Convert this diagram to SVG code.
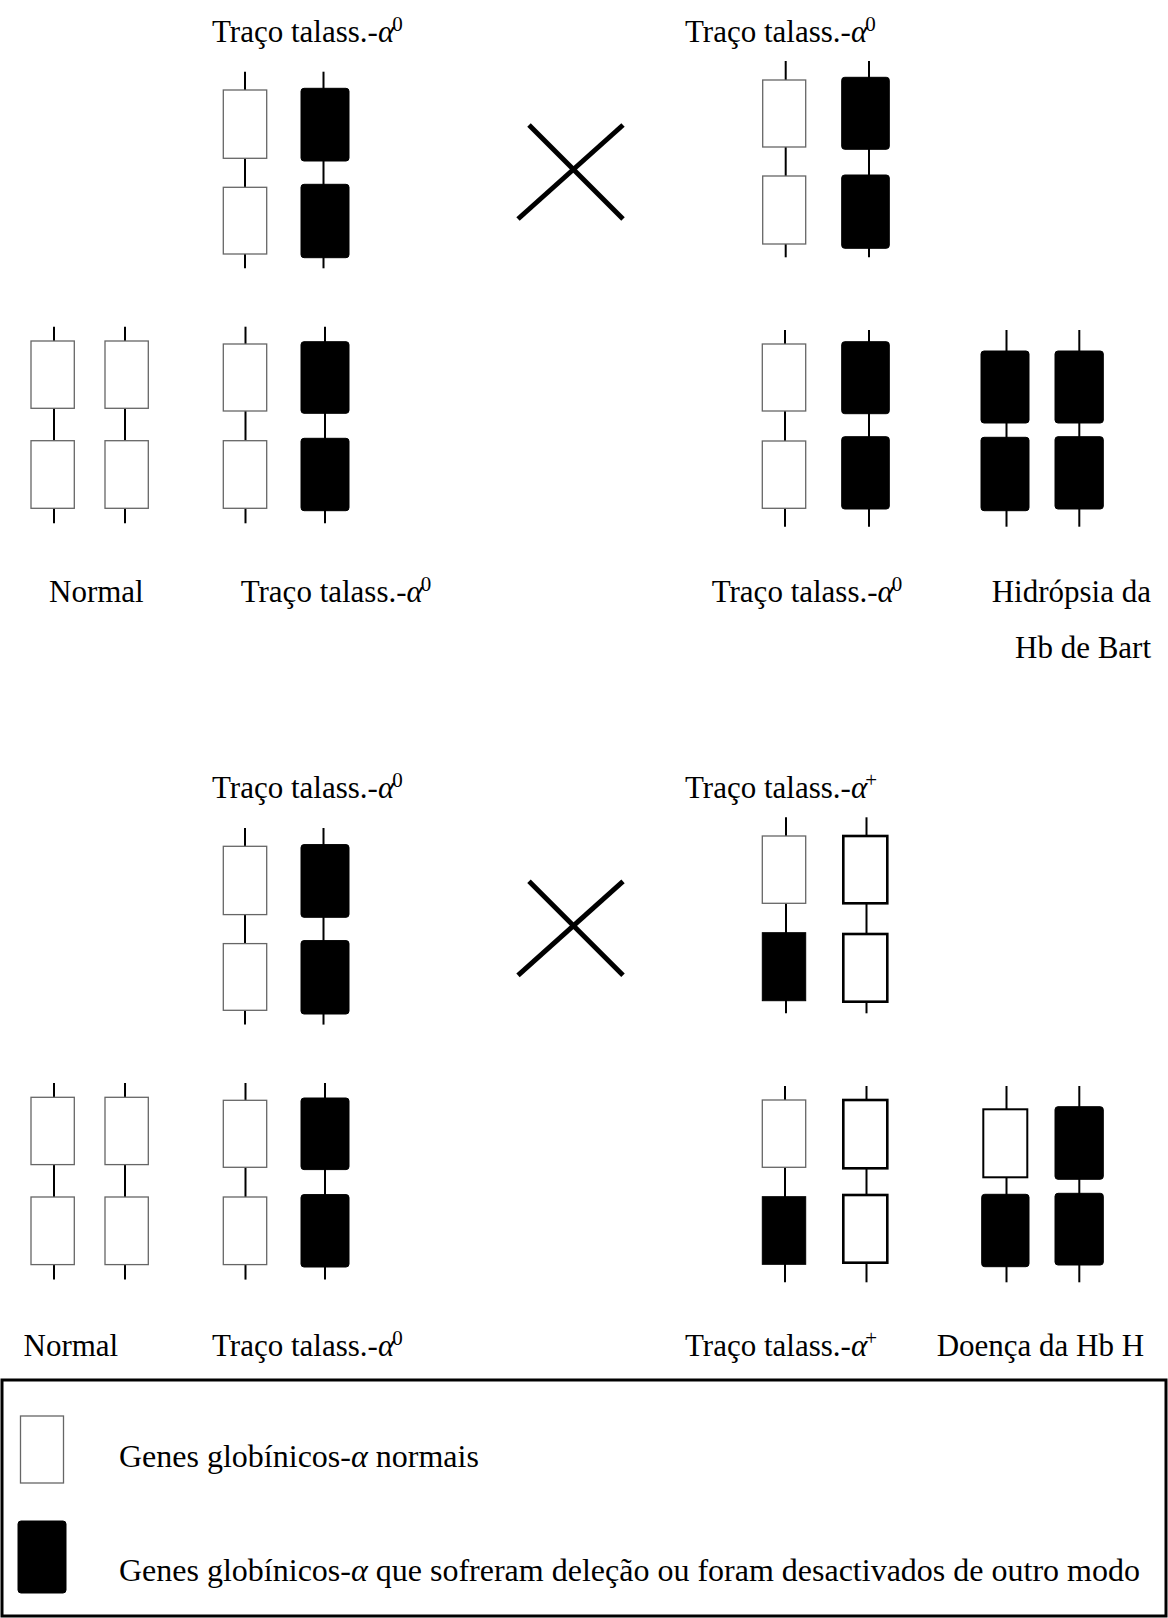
<svg xmlns="http://www.w3.org/2000/svg" width="1168" height="1618" viewBox="0 0 1168 1618">
<style>
.w{fill:#fff;stroke:#666;stroke-width:1.3}
.b{fill:#000;stroke:#000;stroke-width:1}
.bs{fill:#000;stroke:#000;stroke-width:1}
.wt{fill:#fff;stroke:#000;stroke-width:2.6}
.wm{fill:#fff;stroke:#000;stroke-width:2}
.ln{stroke:#000;stroke-width:2;fill:none}
.x{stroke:#000;stroke-width:5;fill:none}
.lbl{font-family:"Liberation Serif","Times New Roman",serif;font-size:31px;fill:#000}
.leg{font-family:"Liberation Serif","Times New Roman",serif;font-size:32px;fill:#000}
.al{font-style:italic}
.sup{font-size:21px}
.frame{fill:none;stroke:#000;stroke-width:3}
</style>
<rect width="1168" height="1618" fill="#fff"/>

<!-- ===== Top cross ===== -->
<g id="parent1-top">
  <line class="ln" x1="245" y1="71.7" x2="245" y2="268.3"/>
  <rect class="w" x="223.3" y="90" width="43.4" height="68.3"/>
  <rect class="w" x="223.3" y="187.3" width="43.4" height="66.7"/>
  <line class="ln" x1="323.5" y1="71.7" x2="323.5" y2="268.3"/>
  <rect class="b" x="301" y="88.3" width="48" height="72.7" rx="3"/>
  <rect class="b" x="301" y="184.3" width="48" height="73.4" rx="3"/>
  <text class="lbl" x="212" y="42">Traço talass.-<tspan class="al">α</tspan><tspan class="sup" dx="-2" dy="-11">0</tspan></text>
</g>

<g id="parent2-top">
  <line class="ln" x1="785.7" y1="61" x2="785.7" y2="257.3"/>
  <rect class="w" x="762.7" y="80" width="43" height="67"/>
  <rect class="w" x="762.7" y="176" width="43" height="68"/>
  <line class="ln" x1="869" y1="61" x2="869" y2="257.3"/>
  <rect class="b" x="841.7" y="77.3" width="47.6" height="72" rx="3"/>
  <rect class="b" x="841.7" y="175" width="47.6" height="73.3" rx="3"/>
  <text class="lbl" x="685" y="42">Traço talass.-<tspan class="al">α</tspan><tspan class="sup" dx="-2" dy="-11">0</tspan></text>
</g>

<g id="child-normal-top">
  <line class="ln" x1="54" y1="326.7" x2="54" y2="523.3"/>
  <rect class="w" x="31" y="341" width="43.3" height="67.3"/>
  <rect class="w" x="31" y="440.7" width="43.3" height="67.6"/>
  <line class="ln" x1="125" y1="326.7" x2="125" y2="523.3"/>
  <rect class="w" x="105" y="341" width="43.3" height="67.3"/>
  <rect class="w" x="105" y="440.7" width="43.3" height="67.6"/>
  <text class="lbl" x="49" y="602">Normal</text>
</g>

<g id="child-trait-left-top">
  <line class="ln" x1="245.5" y1="326.7" x2="245.5" y2="523.3"/>
  <rect class="w" x="223.3" y="344" width="43.4" height="67"/>
  <rect class="w" x="223.3" y="440.7" width="43.4" height="67.6"/>
  <line class="ln" x1="325" y1="326.7" x2="325" y2="523.3"/>
  <rect class="b" x="301" y="341.7" width="48" height="71.6" rx="3"/>
  <rect class="b" x="301" y="438.3" width="48" height="72.4" rx="3"/>
  <text class="lbl" x="240.7" y="602">Traço talass.-<tspan class="al">α</tspan><tspan class="sup" dx="-2" dy="-11">0</tspan></text>
</g>

<g id="child-trait-right-top">
  <line class="ln" x1="785" y1="330" x2="785" y2="526.7"/>
  <rect class="w" x="762.3" y="344" width="43.4" height="67"/>
  <rect class="w" x="762.3" y="441" width="43.4" height="67.3"/>
  <line class="ln" x1="869" y1="330" x2="869" y2="526.7"/>
  <rect class="b" x="841.7" y="341.7" width="47.6" height="72" rx="3"/>
  <rect class="b" x="841.7" y="436.7" width="47.6" height="72.3" rx="3"/>
  <text class="lbl" x="711.7" y="602">Traço talass.-<tspan class="al">α</tspan><tspan class="sup" dx="-2" dy="-11">0</tspan></text>
</g>

<g id="child-hydrops">
  <line class="ln" x1="1006.5" y1="330" x2="1006.5" y2="526.7"/>
  <rect class="b" x="981" y="351" width="48" height="72" rx="3"/>
  <rect class="b" x="981" y="437.3" width="48" height="73.4" rx="3"/>
  <line class="ln" x1="1079.3" y1="330" x2="1079.3" y2="526.7"/>
  <rect class="b" x="1055" y="351" width="48.3" height="72" rx="3"/>
  <rect class="b" x="1055" y="436.7" width="48.3" height="72.3" rx="3"/>
  <text class="lbl" x="991.7" y="602">Hidrópsia da</text>
  <text class="lbl" x="1015" y="658">Hb de Bart</text>
</g>

<!-- ===== Bottom cross ===== -->
<g id="parent1-bottom">
  <line class="ln" x1="245" y1="828" x2="245" y2="1024.6"/>
  <rect class="w" x="223.3" y="846.3" width="43.4" height="68.3"/>
  <rect class="w" x="223.3" y="943.6" width="43.4" height="66.7"/>
  <line class="ln" x1="323.5" y1="828" x2="323.5" y2="1024.6"/>
  <rect class="b" x="301" y="844.6" width="48" height="72.7" rx="3"/>
  <rect class="b" x="301" y="940.6" width="48" height="73.4" rx="3"/>
  <text class="lbl" x="212" y="798">Traço talass.-<tspan class="al">α</tspan><tspan class="sup" dx="-2" dy="-11">0</tspan></text>
</g>

<g id="parent2-bottom">
  <line class="ln" x1="786" y1="817.3" x2="786" y2="1013.3"/>
  <rect class="w" x="762.3" y="836" width="43.4" height="67.3"/>
  <rect class="bs" x="762.3" y="932.7" width="43.4" height="68"/>
  <line class="ln" x1="866.5" y1="817.3" x2="866.5" y2="1013.3"/>
  <rect class="wt" x="843.3" y="836" width="44" height="67.3"/>
  <rect class="wt" x="843.3" y="934" width="44" height="67.7"/>
  <text class="lbl" x="685" y="798">Traço talass.-<tspan class="al">α</tspan><tspan class="sup" dx="-2" dy="-11">+</tspan></text>
</g>

<g id="child-normal-bottom">
  <line class="ln" x1="54" y1="1083" x2="54" y2="1279.6"/>
  <rect class="w" x="31" y="1097.3" width="43.3" height="67.3"/>
  <rect class="w" x="31" y="1197" width="43.3" height="67.6"/>
  <line class="ln" x1="125" y1="1083" x2="125" y2="1279.6"/>
  <rect class="w" x="105" y="1097.3" width="43.3" height="67.3"/>
  <rect class="w" x="105" y="1197" width="43.3" height="67.6"/>
  <text class="lbl" x="23.5" y="1356">Normal</text>
</g>

<g id="child-trait-left-bottom">
  <line class="ln" x1="245.5" y1="1083" x2="245.5" y2="1279.6"/>
  <rect class="w" x="223.3" y="1100.3" width="43.4" height="67"/>
  <rect class="w" x="223.3" y="1197" width="43.4" height="67.6"/>
  <line class="ln" x1="325" y1="1083" x2="325" y2="1279.6"/>
  <rect class="b" x="301" y="1098" width="48" height="71.6" rx="3"/>
  <rect class="b" x="301" y="1194.6" width="48" height="72.4" rx="3"/>
  <text class="lbl" x="212" y="1356">Traço talass.-<tspan class="al">α</tspan><tspan class="sup" dx="-2" dy="-11">0</tspan></text>
</g>

<g id="child-trait-plus-bottom">
  <line class="ln" x1="785" y1="1086" x2="785" y2="1282.3"/>
  <rect class="w" x="762.3" y="1100" width="43.4" height="67.3"/>
  <rect class="bs" x="762.3" y="1196.7" width="43.4" height="67.6"/>
  <line class="ln" x1="866.5" y1="1086" x2="866.5" y2="1282.3"/>
  <rect class="wt" x="843.3" y="1100" width="44" height="68.3"/>
  <rect class="wt" x="843.3" y="1195" width="44" height="67.7"/>
  <text class="lbl" x="685" y="1356">Traço talass.-<tspan class="al">α</tspan><tspan class="sup" dx="-2" dy="-11">+</tspan></text>
</g>

<g id="child-hbh">
  <line class="ln" x1="1006.5" y1="1086" x2="1006.5" y2="1282.3"/>
  <rect class="wm" x="983.3" y="1109.3" width="44" height="68"/>
  <rect class="b" x="981.7" y="1194.3" width="47.3" height="72.4" rx="3"/>
  <line class="ln" x1="1079.3" y1="1086" x2="1079.3" y2="1282.3"/>
  <rect class="b" x="1055" y="1106.7" width="48.3" height="72.6" rx="3"/>
  <rect class="b" x="1055" y="1193.3" width="48.3" height="71.7" rx="3"/>
  <text class="lbl" x="936.7" y="1356">Doença da Hb H</text>
</g>

<g id="connectors">
  <line class="x" x1="529" y1="125" x2="623" y2="219"/>
  <line class="x" x1="623" y1="125" x2="518" y2="219"/>
  <line class="x" x1="529" y1="881.3" x2="623" y2="975.3"/>
  <line class="x" x1="623" y1="881.3" x2="518" y2="975.3"/>
</g>

<g id="legend">
  <rect class="frame" x="2" y="1380" width="1164" height="236"/>
  <rect class="w" x="20.5" y="1416" width="43" height="67"/>
  <rect class="b" x="18" y="1521" width="48" height="72" rx="3"/>
  <text class="leg" x="119" y="1467">Genes globínicos-<tspan class="al">α</tspan> normais</text>
  <text class="leg" x="119" y="1581">Genes globínicos-<tspan class="al">α</tspan> que sofreram deleção ou foram desactivados de outro modo</text>
</g>
</svg>
